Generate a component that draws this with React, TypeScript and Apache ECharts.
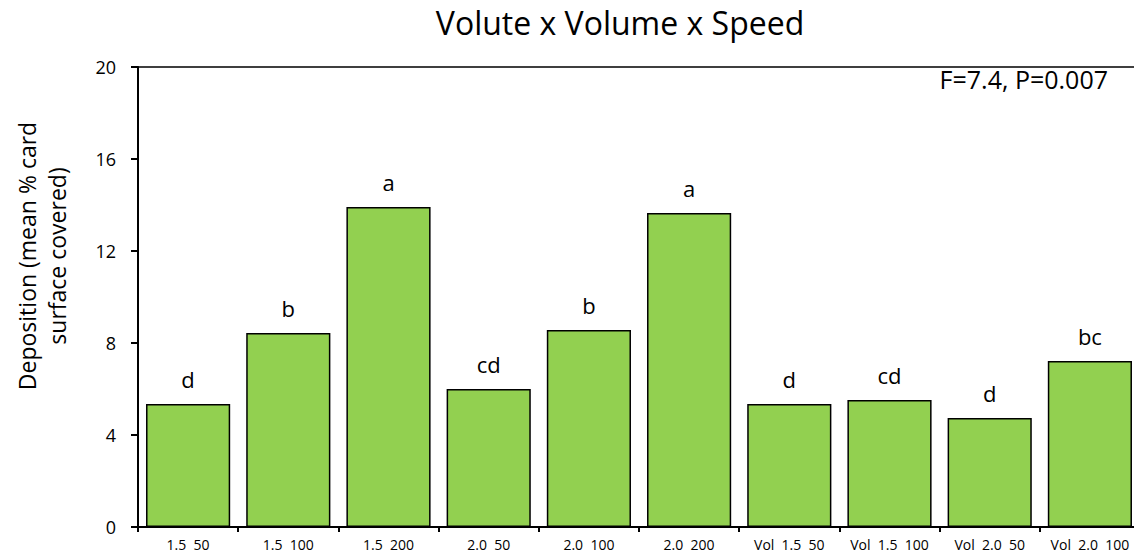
import React, { useEffect, useRef } from "react";
import * as echarts from "echarts";

const categories = [
  "1.5  50",
  "1.5  100",
  "1.5  200",
  "2.0  50",
  "2.0  100",
  "2.0  200",
  "Vol  1.5  50",
  "Vol  1.5  100",
  "Vol  2.0  50",
  "Vol  2.0  100",
];
const deposition = [5.35, 8.43, 13.91, 6.0, 8.57, 13.65, 5.35, 5.52, 4.74, 7.22];
const groupLetters = ["d", "b", "a", "cd", "b", "a", "d", "cd", "d", "bc"];
const yTicks = [0, 4, 8, 12, 16, 20];

const FONT = "'Open Sans', 'Liberation Sans', sans-serif";

export default function App() {
  const ref = useRef<HTMLDivElement>(null);

  useEffect(() => {
    if (!ref.current) return;
    const chart = echarts.init(ref.current, undefined, { renderer: "svg" });
    chart.setOption({
      animation: false,
      backgroundColor: "#ffffff",
      title: {
        text: "Volute x Volume x Speed",
        left: 615,
        top: 1,
        textAlign: "center",
        textStyle: { fontFamily: FONT, fontSize: 32, fontWeight: "normal", color: "#000" },
      },
      grid: {
        left: 138,
        right: 10,
        top: 67,
        bottom: 29,
        show: true,
        borderColor: "#000",
        borderWidth: 1.5,
      },
      xAxis: {
        type: "category",
        data: categories,
        axisLine: { lineStyle: { color: "#000", width: 2 } },
        axisTick: { show: true, length: 5, lineStyle: { color: "#000", width: 2 } },
        axisLabel: {
          color: "#000",
          fontFamily: FONT,
          fontSize: 14,
          margin: 10,
          interval: 0,
          hideOverlap: false,
        },
      },
      yAxis: {
        type: "value",
        min: yTicks[0],
        max: yTicks[yTicks.length - 1],
        interval: 4,
        splitLine: { show: false },
        axisLine: { show: true, lineStyle: { color: "#000", width: 2 } },
        axisTick: { show: true, length: 7, lineStyle: { color: "#000", width: 2 } },
        axisLabel: { color: "#000", fontFamily: FONT, fontSize: 18, margin: 22 },
      },
      series: [
        {
          type: "bar",
          data: deposition.map((v, i) => ({
            value: v,
            label: { formatter: groupLetters[i] },
          })),
          barCategoryGap: "16%",
          itemStyle: { color: "#92D050", borderColor: "#000", borderWidth: 1.5 },
          label: {
            show: true,
            position: "top",
            distance: 14,
            color: "#000",
            fontFamily: FONT,
            fontSize: 22,
          },
        },
      ],
      graphic: [
        {
          type: "text",
          x: 42,
          y: 256,
          rotation: Math.PI / 2,
          style: {
            text: "Deposition (mean % card\nsurface covered)",
            fontFamily: FONT,
            fontSize: 23,
            lineHeight: 30,
            fill: "#000",
            textAlign: "center",
            textVerticalAlign: "middle",
          },
        },
        {
          type: "text",
          x: 1108,
          y: 79,
          style: {
            text: "F=7.4, P=0.007",
            fontFamily: FONT,
            fontSize: 25,
            fill: "#000",
            textAlign: "right",
            textVerticalAlign: "middle",
          },
        },
      ],
    });
    return () => chart.dispose();
  }, []);

  return (
    <div
      style={{
        position: "fixed",
        left: 0,
        top: 0,
        width: 1134,
        height: 556,
        overflow: "hidden",
        background: "#fff",
      }}
    >
      <div ref={ref} style={{ width: 1150, height: 556 }} />
    </div>
  );
}
